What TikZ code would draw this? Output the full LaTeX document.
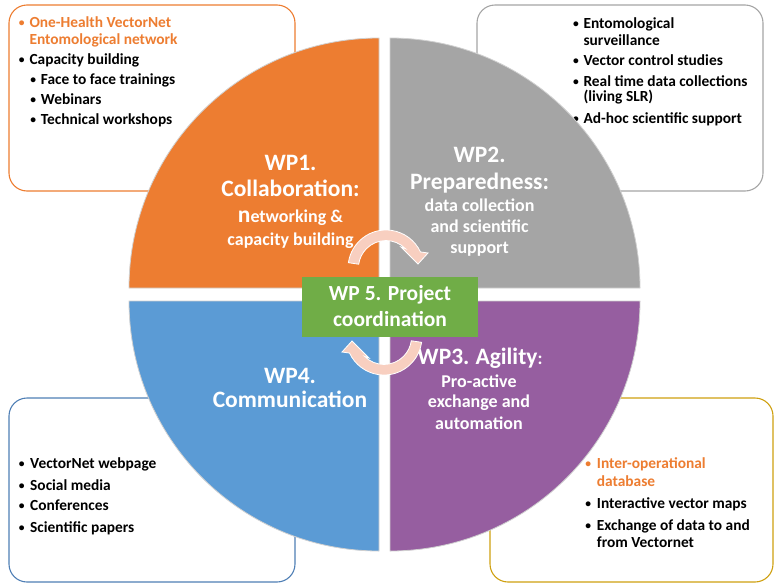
\documentclass[tikz,border=0pt]{standalone}
\usepackage{fontspec}
\setmainfont{Carlito}
\definecolor{cOrange}{HTML}{ED7D31}
\definecolor{cGray}{HTML}{A5A5A5}
\definecolor{cBlue}{HTML}{5B9BD5}
\definecolor{cPurple}{HTML}{965EA0}
\definecolor{cGreen}{HTML}{70AD47}
\definecolor{cPeach}{HTML}{F8CFC0}
\definecolor{cBoxBlue}{HTML}{4F7FB5}
\definecolor{cGold}{HTML}{CFA010}
\definecolor{cEdge}{HTML}{D0D0D0}
\tikzset{
  infobox/.style={fill=white, line width=1.1pt, rounded corners=18pt},
  quad/.style={draw=cEdge, line width=0.8pt},
  qtitle/.style={text=white, anchor=base, inner sep=0pt, font=\fontsize{23.5}{28}\selectfont\bfseries},
  qsub/.style={text=white, anchor=base, inner sep=0pt, font=\fontsize{18}{21}\selectfont\bfseries},
  btxt/.style={anchor=base west, inner sep=0pt, font=\fontsize{15.4}{18.8}\selectfont\bfseries},
  bdot/.style={anchor=base, inner sep=0pt, yshift=1pt, font=\fontsize{11.5}{13}\selectfont\bfseries},
  cyclearrow/.style={fill=cPeach, draw=white, line width=0.8pt},
}
\begin{document}
\begin{tikzpicture}[x=1pt,y=-1pt]
\useasboundingbox (0,0) rectangle (774,584);

% ---------- info boxes ----------
\draw[infobox, draw=cOrange] (9,5) rectangle (295,191);
\draw[infobox, draw=cGray] (477,5) rectangle (763,191);
\draw[infobox, draw=cBoxBlue] (9,398) rectangle (295,582);
\draw[infobox, draw=cGold] (490,398) rectangle (773,582);

% top-left box text
\node[bdot, text=cOrange] (b1a) at (21.7,27.3) {•};
\node[btxt, text=cOrange] (t1a) at (29.3,27.3) {One-Health VectorNet};
\node[btxt, text=cOrange] (t1b) at (29.3,44.3) {Entomological network};
\node[bdot] (b1c) at (21.7,64.3) {•};
\node[btxt] (t1c) at (29.3,64.3) {Capacity building};
\node[bdot] (b1d) at (33.3,84.3) {•};
\node[btxt] (t1d) at (40.7,84.3) {Face to face trainings};
\node[bdot] (b1e) at (33.3,104) {•};
\node[btxt] (t1e) at (40.7,104) {Webinars};
\node[bdot] (b1f) at (33.3,124) {•};
\node[btxt] (t1f) at (40.7,124) {Technical workshops};

% top-right box text
\node[bdot] (b2a) at (576,28.3) {•};
\node[btxt] (t2a) at (583.3,28.3) {Entomological};
\node[btxt] (t2b) at (583.3,45) {surveillance};
\node[bdot] (b2c) at (576,65.7) {•};
\node[btxt] (t2c) at (583.3,65.7) {Vector control studies};
\node[bdot] (b2d) at (576,86) {•};
\node[btxt] (t2d) at (583.3,86) {Real time data collections};
\node[btxt] (t2e) at (583.3,101.7) {(living SLR)};
\node[bdot] (b2f) at (576,123.3) {•};
\node[btxt] (t2f) at (583.3,123.3) {Ad-hoc scientific support};

% bottom-left box text
\node[bdot] (b3a) at (21.7,468.3) {•};
\node[btxt] (t3a) at (30,468.3) {VectorNet webpage};
\node[bdot] (b3b) at (21.7,490) {•};
\node[btxt] (t3b) at (30,490) {Social media};
\node[bdot] (b3c) at (21.7,510.7) {•};
\node[btxt] (t3c) at (30,510.7) {Conferences};
\node[bdot] (b3d) at (21.7,532.3) {•};
\node[btxt] (t3d) at (30,532.3) {Scientific papers};

% bottom-right box text
\node[bdot, text=cOrange] (b4a) at (588.3,468.3) {•};
\node[btxt, text=cOrange] (t4a) at (596.7,468.3) {Inter-operational};
\node[btxt, text=cOrange] (t4b) at (596.7,486) {database};
\node[bdot] (b4c) at (588.3,508.3) {•};
\node[btxt] (t4c) at (596.7,508.3) {Interactive vector maps};
\node[bdot] (b4d) at (588.3,530) {•};
\node[btxt] (t4d) at (596.7,530) {Exchange of data to and};
\node[btxt] (t4e) at (596.7,547.3) {from Vectornet};

% ---------- quadrants ----------
\filldraw[quad, fill=cOrange] (379,288) -- ++(-250,0) arc[start angle=180, end angle=90, radius=250pt] -- cycle;
\filldraw[quad, fill=cGray] (390,288) -- ++(0,-250) arc[start angle=90, end angle=0, radius=250pt] -- cycle;
\filldraw[quad, fill=cBlue] (379,301) -- ++(-250,0) arc[start angle=180, end angle=270, radius=250pt] -- cycle;
\filldraw[quad, fill=cPurple] (390,301) -- ++(250,0) arc[start angle=0, end angle=-90, radius=250pt] -- cycle;

% WP1
\node[qtitle] (wp1a) at (290.5,170) {WP1.};
\node[qtitle] (wp1b) at (290.5,196.7) {Collaboration:};
\node[qsub] (wp1c) at (290.5,222.7) {{\fontsize{23.5}{28}\selectfont n}etworking \&};
\node[qsub] (wp1d) at (290.5,245) {capacity building};
% WP2
\node[qtitle] (wp2a) at (479.6,162.7) {WP2.};
\node[qtitle] (wp2b) at (479.6,189.3) {Preparedness:};
\node[qsub] (wp2c) at (479.6,211.7) {data collection};
\node[qsub] (wp2d) at (479.6,232.3) {and scientific};
\node[qsub] (wp2e) at (479.6,253) {support};
% WP4
\node[qtitle] (wp4a) at (290,383.3) {WP4.};
\node[qtitle] (wp4b) at (290,407.7) {Communication};
% WP3
\node[qtitle] (wp3a) at (480,364.3) {WP3.\hspace{-1pt} Agility{\fontsize{18}{21}\selectfont:}};
\node[qsub] (wp3b) at (479,387.3) {Pro-active};
\node[qsub] (wp3c) at (479,407.7) {exchange and};
\node[qsub] (wp3d) at (479,429.3) {automation};

% ---------- WP5 ----------
\node[fill=cGreen, minimum width=176pt, minimum height=60pt, inner sep=0pt] (wp5) at (390,307) {};
\node[qtitle, font=\fontsize{21.5}{26}\selectfont\bfseries] (wp5a) at (390,300.7) {WP 5. Project};
\node[qtitle, font=\fontsize{21.5}{26}\selectfont\bfseries] (wp5b) at (390,326.7) {coordination};

% ---------- cycle arrows ----------
\filldraw[cyclearrow] (348.4,262.7) arc[start angle=172, end angle=25, radius=38pt]
  -- (428,253) -- (418,264) -- (401,247) -- (405.4,248.6)
  arc[start angle=45, end angle=172, radius=27.5pt] -- cycle;
\begin{scope}[rotate around={180:(385,302.5)}]
\filldraw[cyclearrow] (348.4,262.7) arc[start angle=172, end angle=25, radius=38pt]
  -- (428,253) -- (418,264) -- (401,247) -- (405.4,248.6)
  arc[start angle=45, end angle=172, radius=27.5pt] -- cycle;
\end{scope}
\end{tikzpicture}
\end{document}
